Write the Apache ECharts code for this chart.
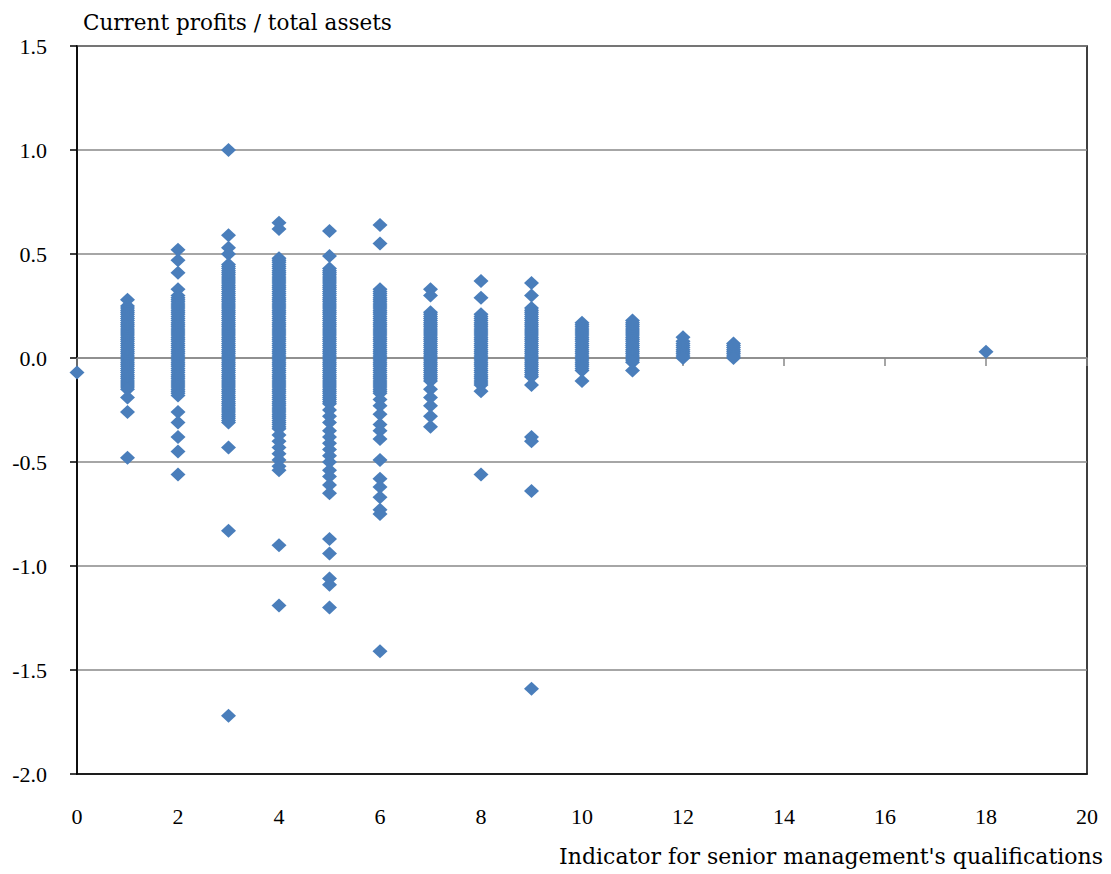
<!DOCTYPE html>
<html>
<head>
<meta charset="utf-8">
<script src="https://cdn.jsdelivr.net/npm/echarts@6/dist/echarts.min.js"></script>
<style>
html,body{margin:0;padding:0;background:#fff;}
#chart{width:1111px;height:874px;}
</style>
</head>
<body>
<div id="chart"></div>
<script>
// Values (x = indicator, y = current profits / total assets)
var xValues = [0, 1, 2, 3, 4, 5, 6, 7, 8, 9, 10, 11, 12, 13, 18];
var col0 = [-0.07];
var col1 = [0.28, 0.25, 0.24, 0.23, 0.22, 0.21, 0.20, 0.19, 0.18, 0.17, 0.16, 0.15, 0.14, 0.13, 0.12, 0.11, 0.10, 0.09, 0.08, 0.07, 0.06, 0.05, 0.04, 0.03, 0.02, 0.01, 0.00, -0.01, -0.02, -0.03, -0.04, -0.05, -0.06, -0.07, -0.08, -0.09, -0.10, -0.11, -0.12, -0.13, -0.14, -0.15, -0.19, -0.26, -0.48];
var col2 = [0.52, 0.47, 0.41, 0.33, 0.30, 0.29, 0.28, 0.27, 0.26, 0.25, 0.24, 0.23, 0.22, 0.21, 0.20, 0.19, 0.18, 0.17, 0.16, 0.15, 0.14, 0.13, 0.12, 0.11, 0.10, 0.09, 0.08, 0.07, 0.06, 0.05, 0.04, 0.03, 0.02, 0.01, 0.00, -0.01, -0.02, -0.03, -0.04, -0.05, -0.06, -0.07, -0.08, -0.09, -0.10, -0.11, -0.12, -0.13, -0.14, -0.15, -0.16, -0.17, -0.18, -0.26, -0.31, -0.38, -0.45, -0.56];
var col3 = [1.00, 0.59, 0.53, 0.50, 0.45, 0.44, 0.43, 0.42, 0.41, 0.40, 0.39, 0.38, 0.37, 0.36, 0.35, 0.34, 0.33, 0.32, 0.31, 0.30, 0.29, 0.28, 0.27, 0.26, 0.25, 0.24, 0.23, 0.22, 0.21, 0.20, 0.19, 0.18, 0.17, 0.16, 0.15, 0.14, 0.13, 0.12, 0.11, 0.10, 0.09, 0.08, 0.07, 0.06, 0.05, 0.04, 0.03, 0.02, 0.01, 0.00, -0.01, -0.02, -0.03, -0.04, -0.05, -0.06, -0.07, -0.08, -0.09, -0.10, -0.11, -0.12, -0.13, -0.14, -0.15, -0.16, -0.17, -0.18, -0.19, -0.20, -0.21, -0.22, -0.23, -0.24, -0.25, -0.26, -0.27, -0.28, -0.29, -0.30, -0.31, -0.43, -0.83, -1.72];
var col4 = [0.65, 0.62, 0.48, 0.47, 0.46, 0.45, 0.44, 0.43, 0.42, 0.41, 0.40, 0.39, 0.38, 0.37, 0.36, 0.35, 0.34, 0.33, 0.32, 0.31, 0.30, 0.29, 0.28, 0.27, 0.26, 0.25, 0.24, 0.23, 0.22, 0.21, 0.20, 0.19, 0.18, 0.17, 0.16, 0.15, 0.14, 0.13, 0.12, 0.11, 0.10, 0.09, 0.08, 0.07, 0.06, 0.05, 0.04, 0.03, 0.02, 0.01, 0.00, -0.01, -0.02, -0.03, -0.04, -0.05, -0.06, -0.07, -0.08, -0.09, -0.10, -0.11, -0.12, -0.13, -0.14, -0.15, -0.16, -0.17, -0.18, -0.19, -0.20, -0.21, -0.22, -0.23, -0.24, -0.25, -0.26, -0.27, -0.28, -0.29, -0.30, -0.31, -0.32, -0.33, -0.34, -0.37, -0.40, -0.43, -0.46, -0.49, -0.52, -0.54, -0.90, -1.19];
var col5 = [0.61, 0.49, 0.43, 0.42, 0.41, 0.40, 0.39, 0.38, 0.37, 0.36, 0.35, 0.34, 0.33, 0.32, 0.31, 0.30, 0.29, 0.28, 0.27, 0.26, 0.25, 0.24, 0.23, 0.22, 0.21, 0.20, 0.19, 0.18, 0.17, 0.16, 0.15, 0.14, 0.13, 0.12, 0.11, 0.10, 0.09, 0.08, 0.07, 0.06, 0.05, 0.04, 0.03, 0.02, 0.01, 0.00, -0.01, -0.02, -0.03, -0.04, -0.05, -0.06, -0.07, -0.08, -0.09, -0.10, -0.11, -0.12, -0.13, -0.14, -0.15, -0.16, -0.17, -0.18, -0.19, -0.20, -0.21, -0.22, -0.25, -0.28, -0.31, -0.35, -0.38, -0.41, -0.44, -0.47, -0.50, -0.54, -0.57, -0.61, -0.65, -0.87, -0.94, -1.06, -1.09, -1.20];
var col6 = [0.64, 0.55, 0.33, 0.32, 0.31, 0.30, 0.29, 0.28, 0.27, 0.26, 0.25, 0.24, 0.23, 0.22, 0.21, 0.20, 0.19, 0.18, 0.17, 0.16, 0.15, 0.14, 0.13, 0.12, 0.11, 0.10, 0.09, 0.08, 0.07, 0.06, 0.05, 0.04, 0.03, 0.02, 0.01, 0.00, -0.01, -0.02, -0.03, -0.04, -0.05, -0.06, -0.07, -0.08, -0.09, -0.10, -0.11, -0.12, -0.13, -0.14, -0.15, -0.16, -0.17, -0.20, -0.23, -0.27, -0.32, -0.35, -0.39, -0.49, -0.58, -0.62, -0.67, -0.73, -0.75, -1.41];
var col7 = [0.33, 0.30, 0.22, 0.21, 0.20, 0.19, 0.18, 0.17, 0.16, 0.15, 0.14, 0.13, 0.12, 0.11, 0.10, 0.09, 0.08, 0.07, 0.06, 0.05, 0.04, 0.03, 0.02, 0.01, 0.00, -0.01, -0.02, -0.03, -0.04, -0.05, -0.06, -0.07, -0.08, -0.09, -0.10, -0.11, -0.15, -0.19, -0.23, -0.28, -0.33];
var col8 = [0.37, 0.29, 0.21, 0.20, 0.19, 0.18, 0.17, 0.16, 0.15, 0.14, 0.13, 0.12, 0.11, 0.10, 0.09, 0.08, 0.07, 0.06, 0.05, 0.04, 0.03, 0.02, 0.01, 0.00, -0.01, -0.02, -0.03, -0.04, -0.05, -0.06, -0.07, -0.08, -0.09, -0.10, -0.11, -0.12, -0.13, -0.16, -0.56];
var col9 = [0.36, 0.30, 0.24, 0.23, 0.22, 0.21, 0.20, 0.19, 0.18, 0.17, 0.16, 0.15, 0.14, 0.13, 0.12, 0.11, 0.10, 0.09, 0.08, 0.07, 0.06, 0.05, 0.04, 0.03, 0.02, 0.01, 0.00, -0.01, -0.02, -0.03, -0.04, -0.05, -0.06, -0.07, -0.08, -0.09, -0.13, -0.38, -0.40, -0.64, -1.59];
var col10 = [0.17, 0.16, 0.15, 0.14, 0.13, 0.12, 0.11, 0.10, 0.09, 0.08, 0.07, 0.06, 0.05, 0.04, 0.03, 0.02, 0.01, 0.00, -0.01, -0.02, -0.03, -0.04, -0.05, -0.06, -0.11];
var col11 = [0.18, 0.17, 0.16, 0.15, 0.14, 0.13, 0.12, 0.11, 0.10, 0.09, 0.08, 0.07, 0.06, 0.05, 0.04, 0.03, 0.02, 0.01, 0.00, -0.01, -0.02, -0.06];
var col12 = [0.10, 0.08, 0.07, 0.06, 0.05, 0.04, 0.03, 0.02, 0.01, 0.00];
var col13 = [0.07, 0.06, 0.05, 0.04, 0.03, 0.02, 0.01, 0.00];
var col18 = [0.03];
var columns = [col0, col1, col2, col3, col4, col5, col6, col7, col8, col9, col10, col11, col12, col13, col18];

var yTickLabels = ['-2.0', '-1.5', '-1.0', '-0.5', '0.0', '0.5', '1.0', '1.5'];
var xTickLabels = ['0', '2', '4', '6', '8', '10', '12', '14', '16', '18', '20'];

var points = [];
columns.forEach(function (col, i) {
  col.forEach(function (v) { points.push([xValues[i], v]); });
});

var TICK_FONT = 'Liberation Serif';
var NAME_FONT = 'DejaVu Serif';
var chart = echarts.init(document.getElementById('chart'), null, { renderer: 'svg' });
chart.setOption({
  animation: false,
  backgroundColor: '#ffffff',
  grid: {
    left: 77, right: 24, top: 46, bottom: 100,
    show: true, borderColor: '#000000', borderWidth: 1.5, backgroundColor: 'transparent'
  },
  xAxis: [{
    type: 'value', min: 0, max: 20, interval: 2,
    position: 'bottom',
    axisLine: { show: true, onZero: false, lineStyle: { color: '#000000', width: 1.5 } },
    axisTick: { show: false },
    splitLine: { show: false },
    axisLabel: {
      margin: 31, color: '#000000', fontFamily: TICK_FONT, fontSize: 22,
      formatter: function (v) { var s = String(Math.round(v)); return xTickLabels.indexOf(s) >= 0 ? s : ''; }
    },
    name: "Indicator for senior management's qualifications",
    nameLocation: 'end', nameGap: 16,
    nameTextStyle: {
      color: '#000000', fontFamily: NAME_FONT, fontSize: 22,
      align: 'right', verticalAlign: 'top', padding: [71, 0, 0, 0]
    }
  }, {
    type: 'value', min: 0, max: 20, interval: 2,
    position: 'bottom',
    axisLine: { show: true, onZero: true, lineStyle: { color: '#898989', width: 1.5 } },
    axisTick: { show: true, length: 8, lineStyle: { color: '#898989', width: 1.5 } },
    axisLabel: { show: false },
    splitLine: { show: false }
  }],
  yAxis: {
    type: 'value', min: -2, max: 1.5, interval: 0.5,
    axisLine: { show: true, onZero: false, lineStyle: { color: '#000000', width: 1.5 } },
    axisTick: { show: true, length: 7, lineStyle: { color: '#000000', width: 1.5 } },
    splitLine: { show: true, lineStyle: { color: '#898989', width: 1.5 } },
    axisLabel: {
      margin: 30, color: '#000000', fontFamily: TICK_FONT, fontSize: 22,
      formatter: function (v) { var s = v.toFixed(1); return yTickLabels.indexOf(s) >= 0 ? s : ''; }
    },
    name: 'Current profits / total assets',
    nameLocation: 'end', nameGap: 13,
    nameTextStyle: { color: '#000000', fontFamily: NAME_FONT, fontSize: 21.5, align: 'left', padding: [0, 0, 0, 6] }
  },
  series: [{
    type: 'scatter',
    xAxisIndex: 0,
    symbol: 'diamond',
    symbolSize: [15, 14],
    itemStyle: { color: '#4A7EBB', opacity: 1 },
    data: points
  }]
});
</script>
</body>
</html>
